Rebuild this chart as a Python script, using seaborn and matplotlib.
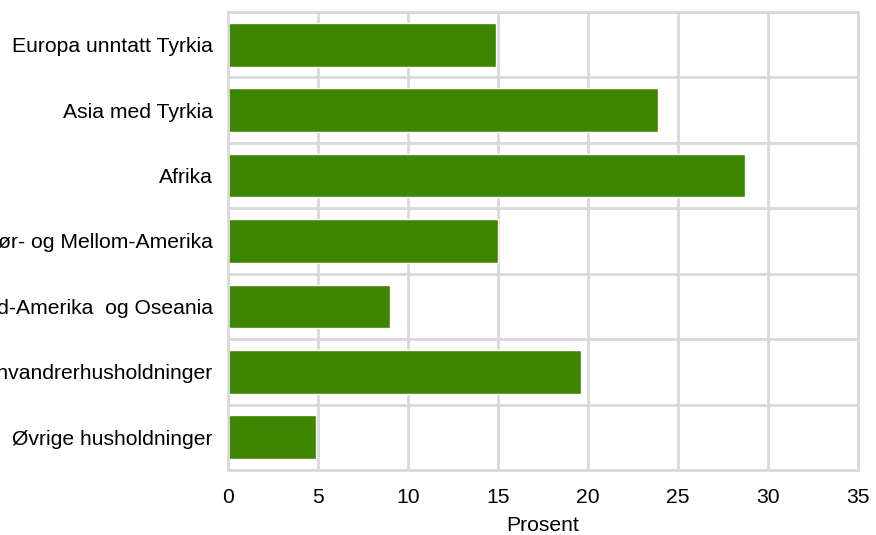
import numpy as np
import pandas as pd
import matplotlib
matplotlib.use("Agg")
import matplotlib.pyplot as plt
import seaborn as sns

# ---- data ----
regions = ["Europa unntatt Tyrkia", "Asia med Tyrkia", "Afrika",
           "Sør- og Mellom-Amerika", "Nord-Amerika  og Oseania",
           "Alle innvandrerhusholdninger", "Øvrige husholdninger"]
prosent = [14.9, 23.9, 28.7, 15.0, 9.0, 19.6, 4.9]
x_ticks = [0, 5, 10, 15, 20, 25, 30, 35]

df = pd.DataFrame({"region": regions, "prosent": prosent})

sns.set_style("white")
plt.rcParams["font.family"] = ["Liberation Sans", "DejaVu Sans"]
plt.rcParams["text.color"] = "black"

grid_col = "#d9d9d9"
fs = 15.2
fig = plt.figure(figsize=(8.76, 5.35), dpi=100)
ax = fig.add_axes([0.2603, 0.1215, 0.7192, 0.8561])

sns.barplot(data=df, x="prosent", y="region", color="#3f8600", saturation=1,
            width=0.67, ax=ax)

ax.set_xlim(0, 35)
ax.set_xticks(x_ticks)
ax.set_ylim(len(regions) - 0.5, -0.5)
ax.set_yticks(np.arange(len(regions)))
ax.set_yticklabels(regions)
ax.set_yticks(np.arange(len(regions) + 1) - 0.5, minor=True)

ax.grid(axis="x", which="major", color=grid_col, linewidth=2)
ax.grid(axis="y", which="minor", color=grid_col, linewidth=2)
ax.grid(axis="y", which="major", visible=False)
ax.set_axisbelow(True)
for s in ax.spines.values():
    s.set_color(grid_col)
    s.set_linewidth(2)

ax.tick_params(axis="both", which="both", length=0, labelsize=fs,
               colors="black")
ax.tick_params(axis="x", pad=13)
ax.tick_params(axis="y", pad=11)
ax.set_xlabel("Prosent", fontsize=fs, labelpad=6.5, color="black")
ax.set_ylabel("")

fig.savefig("out.png", dpi=100)
